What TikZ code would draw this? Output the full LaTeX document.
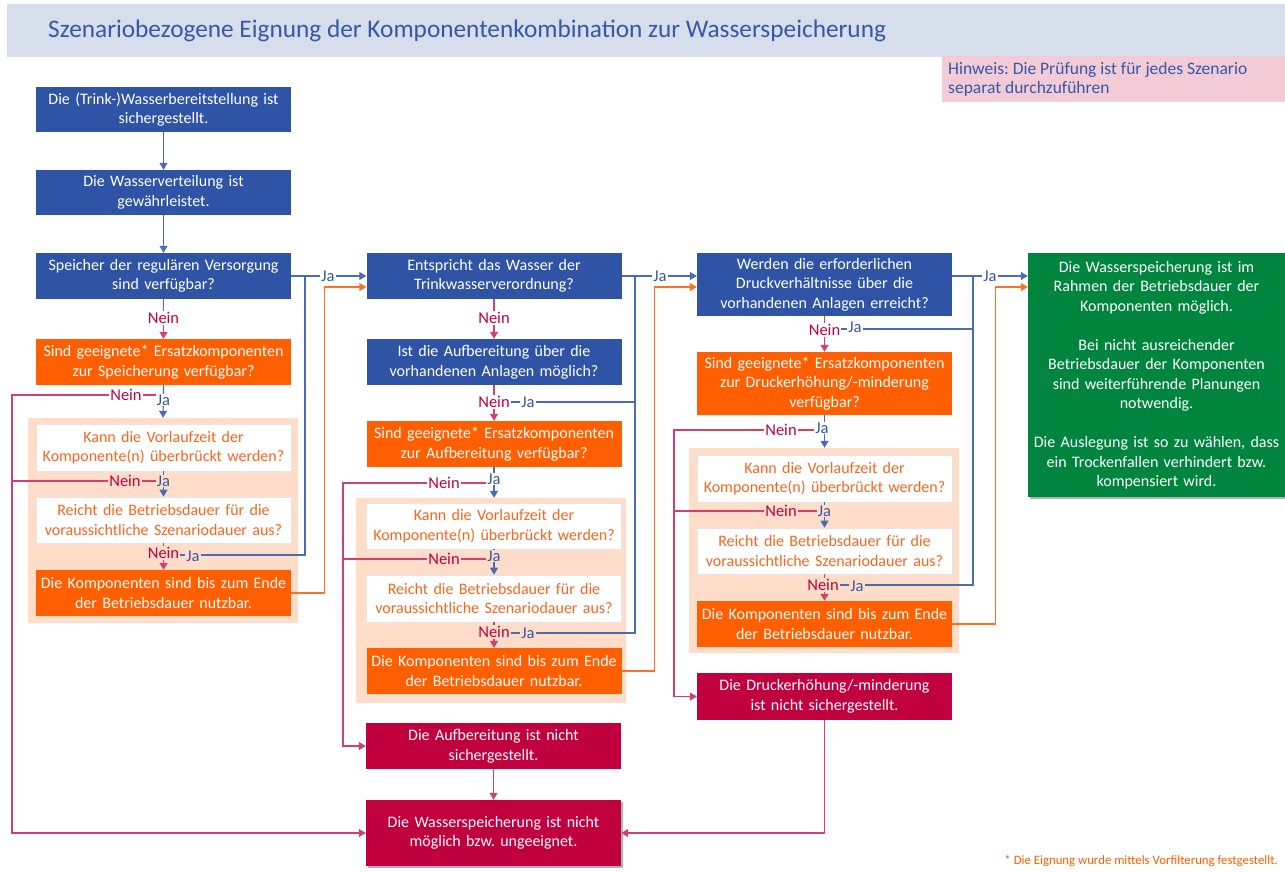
\documentclass[tikz,border=0pt]{standalone}
\usepackage{fontspec}
\setmainfont{Carlito}
\usetikzlibrary{arrows.meta,shadows,calc}
\definecolor{cblue}{HTML}{2F54A5}
\definecolor{corange}{HTML}{FF5F00}
\definecolor{ccrim}{HTML}{C0003F}
\definecolor{cgreen}{HTML}{00853E}
\definecolor{cpeach}{HTML}{FFDDC9}
\definecolor{ctitle}{HTML}{D6DDEB}
\definecolor{chint}{HTML}{F2CBD7}
\definecolor{ctxtblue}{HTML}{3558A8}
\definecolor{lblue}{HTML}{4A6BBA}
\definecolor{lred}{HTML}{D2406F}
\definecolor{lorange}{HTML}{FF7026}
\definecolor{worange}{HTML}{F7661E}
\tikzset{
  bx/.style={rectangle, inner sep=0pt, align=center, font=\fontsize{16}{19.5}\selectfont, minimum width=255pt, text width=253pt},
  bluebx/.style={bx, fill=cblue, text=white},
  orbx/.style={bx, fill=corange, text=white},
  whbx/.style={bx, fill=white, draw=black!10, line width=0.6pt, text=worange},
  crbx/.style={bx, fill=ccrim, text=white},
  peach/.style={rectangle, fill=cpeach, inner sep=0pt},
  lb/.style={line width=1.2pt, draw=lblue},
  lr/.style={line width=1.2pt, draw=lred},
  lo/.style={line width=1.2pt, draw=lorange},
  tipb/.style={-{Triangle[length=7pt,width=8pt]}, color=lblue},
  tipr/.style={-{Triangle[length=7pt,width=8pt]}, color=lred},
  tipo/.style={-{Triangle[length=7pt,width=8pt]}, color=lorange},
  lbl/.style={inner sep=1pt, font=\fontsize{16.5}{17}\selectfont, fill=#1},
  lbl/.default=white,
  ja/.style={lbl=#1, text=ctxtblue},
  ja/.default=white,
  nein/.style={lbl=#1, text=ccrim},
  nein/.default=white,
  shd/.style={drop shadow={shadow xshift=2pt, shadow yshift=-2pt, opacity=0.3, fill=black}}
}
\begin{document}
\frenchspacing
\begin{tikzpicture}[x=1pt,y=-1pt]
\useasboundingbox (0,0) rectangle (1285,872);
\fill[white] (0,0) rectangle (1285,872);
% title and hint
\fill[ctitle] (7,4) rectangle (1285,57);
\node[anchor=west, text=ctxtblue, font=\fontsize{25.3}{28}\selectfont, inner sep=0pt] (title) at (48,31) {Szenariobezogene Eignung der Komponentenkombination zur Wasserspeicherung};
\fill[chint] (942,56) rectangle (1285,102);
\node[anchor=west, align=left, text=ctxtblue, font=\fontsize{17.5}{19}\selectfont, inner sep=0pt] (hint) at (948,79) {Hinweis: Die Prüfung ist für jedes Szenario\\separat durchzuführen};

% peach groups
\node[peach, minimum width=270pt, minimum height=205pt] (P1) at (163,520.5) {};
\node[peach, minimum width=270pt, minimum height=205pt] (P2) at (491,600.5) {};
\node[peach, minimum width=270pt, minimum height=205pt] (P3) at (824,550.5) {};

% column 1
\node[bluebx, minimum height=45pt] (A) at (163.5,109.5) {Die (Trink-)Wasserbereitstellung ist\\sichergestellt.};
\node[bluebx, minimum height=45pt] (B) at (163.5,192.5) {Die Wasserverteilung ist\\gewährleistet.};
\node[bluebx, minimum height=46pt] (C) at (163.5,276) {Speicher der regulären Versorgung\\sind verfügbar?};
\node[orbx, minimum height=46pt] (D) at (163.5,362) {Sind geeignete* Ersatzkomponenten\\zur Speicherung verfügbar?};
\node[whbx, minimum height=47pt] (K1) at (163.5,447.5) {Kann die Vorlaufzeit der\\Komponente(n) überbrückt werden?};
\node[whbx, minimum height=46pt] (R1) at (163.5,520) {Reicht die Betriebsdauer für die\\voraussichtliche Szenariodauer aus?};
\node[orbx, minimum height=46pt] (N1) at (163.5,593) {Die Komponenten sind bis zum Ende\\der Betriebsdauer nutzbar.};

% column 2
\node[bluebx, minimum height=46pt] (E) at (494,276) {Entspricht das Wasser der\\Trinkwasserverordnung?};
\node[bluebx, minimum height=46pt] (F) at (494,362) {Ist die Aufbereitung über die\\vorhandenen Anlagen möglich?};
\node[orbx, minimum height=46pt] (G) at (494,444) {Sind geeignete* Ersatzkomponenten\\zur Aufbereitung verfügbar?};
\node[whbx, minimum height=46pt] (K2) at (494,526) {Kann die Vorlaufzeit der\\Komponente(n) überbrückt werden?};
\node[whbx, minimum height=47pt] (R2) at (494,598.5) {Reicht die Betriebsdauer für die\\voraussichtliche Szenariodauer aus?};
\node[orbx, minimum height=46pt] (N2) at (494,671) {Die Komponenten sind bis zum Ende\\der Betriebsdauer nutzbar.};
\node[crbx, minimum height=46pt] (X2) at (493.5,746) {Die Aufbereitung ist nicht\\sichergestellt.};
\node[crbx, shd, minimum height=66pt] (Z) at (493.5,833) {Die Wasserspeicherung ist nicht\\möglich bzw. ungeeignet.};

% column 3
\node[bluebx, minimum height=63pt] (H) at (824.5,284.5) {Werden die erforderlichen\\Druckverhältnisse über die\\vorhandenen Anlagen erreicht?};
\node[orbx, minimum height=63pt] (I) at (824.5,383.5) {Sind geeignete* Ersatzkomponenten\\zur Druckerhöhung/-minderung\\verfügbar?};
\node[whbx, minimum height=47pt] (K3) at (824.5,478.5) {Kann die Vorlaufzeit der\\Komponente(n) überbrückt werden?};
\node[whbx, minimum height=46pt] (R3) at (824.5,551) {Reicht die Betriebsdauer für die\\voraussichtliche Szenariodauer aus?};
\node[orbx, minimum height=46pt] (N3) at (824.5,624) {Die Komponenten sind bis zum Ende\\der Betriebsdauer nutzbar.};
\node[crbx, minimum height=47pt] (X3) at (824.5,696.5) {Die Druckerhöhung/-minderung\\ist nicht sichergestellt.};

% green result
\node[bx, shd, fill=cgreen, text=white, minimum width=257pt, minimum height=244pt, text width=255pt] (GR) at (1156.5,375) {Die Wasserspeicherung ist im\\Rahmen der Betriebsdauer der\\Komponenten möglich.\\[19.5pt]Bei nicht ausreichender\\Betriebsdauer der Komponenten\\sind weiterführende Planungen\\notwendig.\\[19.5pt]Die Auslegung ist so zu wählen, dass\\ein Trockenfallen verhindert bzw.\\kompensiert wird.};

% footnote
\node[anchor=east, text=corange, font=\fontsize{12.8}{14}\selectfont, inner sep=0pt] (foot) at (1278,861) {* Die Eignung wurde mittels Vorfilterung festgestellt.};

% junction coordinates
\coordinate (jD) at (163.5,395);
\coordinate (jK1) at (163.5,481);
\coordinate (jR1) at (163.5,555);
\coordinate (jF) at (494,402);
\coordinate (jG) at (494,483);
\coordinate (jK2) at (494,559);
\coordinate (jR2) at (494,633);
\coordinate (jH) at (824.5,329);
\coordinate (jI) at (824.5,430);
\coordinate (jK3) at (824.5,511);
\coordinate (jR3) at (824.5,585);

% blue connectors
\draw[lb,tipb] (A) -- (B);
\draw[lb,tipb] (B) -- (C);
\draw[lb,tipb] (C.east) -- (E.west);
\draw[lb,tipb] (E.east) -- (H.west |- E.east);
\draw[lb,tipb] (H.east |- E.east) -- (GR.west |- E.east);
\draw[lb] (jR1) -- (305,555) -- (305,276);
\draw[lb] (jF) -- (635,402);
\draw[lb] (jR2) -- (635,633) -- (635,276);
\draw[lb] (jH) -- (973,329);
\draw[lb] (jR3) -- (973,585) -- (973,276);
\draw[lb,tipb] (D.south) -- (P1.north);
\draw[lb,tipb] (K1) -- (R1);
\draw[lb,tipb] (G.south) -- (P2.north -| G.south);
\draw[lb,tipb] (K2) -- (R2);
\draw[lb,tipb] (I.south) -- (P3.north -| I.south);
\draw[lb,tipb] (K3) -- (R3);

% red connectors
\draw[lr,tipr] (C) -- (D);
\draw[lr,tipr] (E) -- (F);
\draw[lr,tipr] (H) -- (I);
\draw[lr,tipr] (F) -- (G);
\draw[lr,tipr] (R1) -- (N1);
\draw[lr,tipr] (R2) -- (N2);
\draw[lr,tipr] (R3) -- (N3);
\draw[lr,tipr] (jD) -- (12,395) |- (Z.west);
\draw[lr] (jK1) -- (12,481);
\draw[lr,tipr] (jG) -- (343,483) |- (X2.west);
\draw[lr] (jK2) -- (343,559);
\draw[lr,tipr] (jI) -- (674,430) |- (X3.west);
\draw[lr] (jK3) -- (674,511);
\draw[lr,tipr] (X2) -- (Z);
\draw[lr,tipr] (X3.south) |- (Z.east);

% orange connectors
\draw[lo,tipo] (N1.east) -- ++(33,0) |- ($(E.west)+(0,11)$);
\draw[lo,tipo] (N2.east) -- ++(33,0) |- ($(H.west |- E.west)+(0,11)$);
\draw[lo,tipo] (N3.east) -- ++(43,0) |- ($(GR.west |- E.west)+(0,11)$);

% labels
\node[nein] (l1) at (163.5,318) {Nein};
\node[ja] (l2) at (328,276) {Ja};
\node[nein] (l3) at (126,395) {Nein};
\node[ja] (l4) at (163.5,400) {Ja};
\node[nein=cpeach] (l5) at (125,481) {Nein};
\node[ja=cpeach] (l6) at (163.5,481) {Ja};
\node[nein=cpeach] (l7) at (163.5,553) {Nein};
\node[ja=cpeach] (l8) at (193,556) {Ja};
\node[nein] (l9) at (494,318) {Nein};
\node[ja] (l10) at (660,276) {Ja};
\node[nein] (l11) at (494,402) {Nein};
\node[ja] (l12) at (528,402) {Ja};
\node[nein] (l13) at (444,483) {Nein};
\node[ja] (l14) at (494,479) {Ja};
\node[nein=cpeach] (l15) at (444,559) {Nein};
\node[ja=cpeach] (l16) at (494,556) {Ja};
\node[nein=cpeach] (l17) at (494,632) {Nein};
\node[ja=cpeach] (l18) at (528,633) {Ja};
\node[ja] (l19) at (990,276) {Ja};
\node[nein] (l20) at (824.5,330) {Nein};
\node[ja] (l21) at (855,327) {Ja};
\node[nein] (l22) at (781,430) {Nein};
\node[ja] (l23) at (822,428) {Ja};
\node[nein=cpeach] (l24) at (781,511) {Nein};
\node[ja=cpeach] (l25) at (824.5,511) {Ja};
\node[nein=cpeach] (l26) at (823,585) {Nein};
\node[ja=cpeach] (l27) at (857,586) {Ja};
\end{tikzpicture}
\end{document}
